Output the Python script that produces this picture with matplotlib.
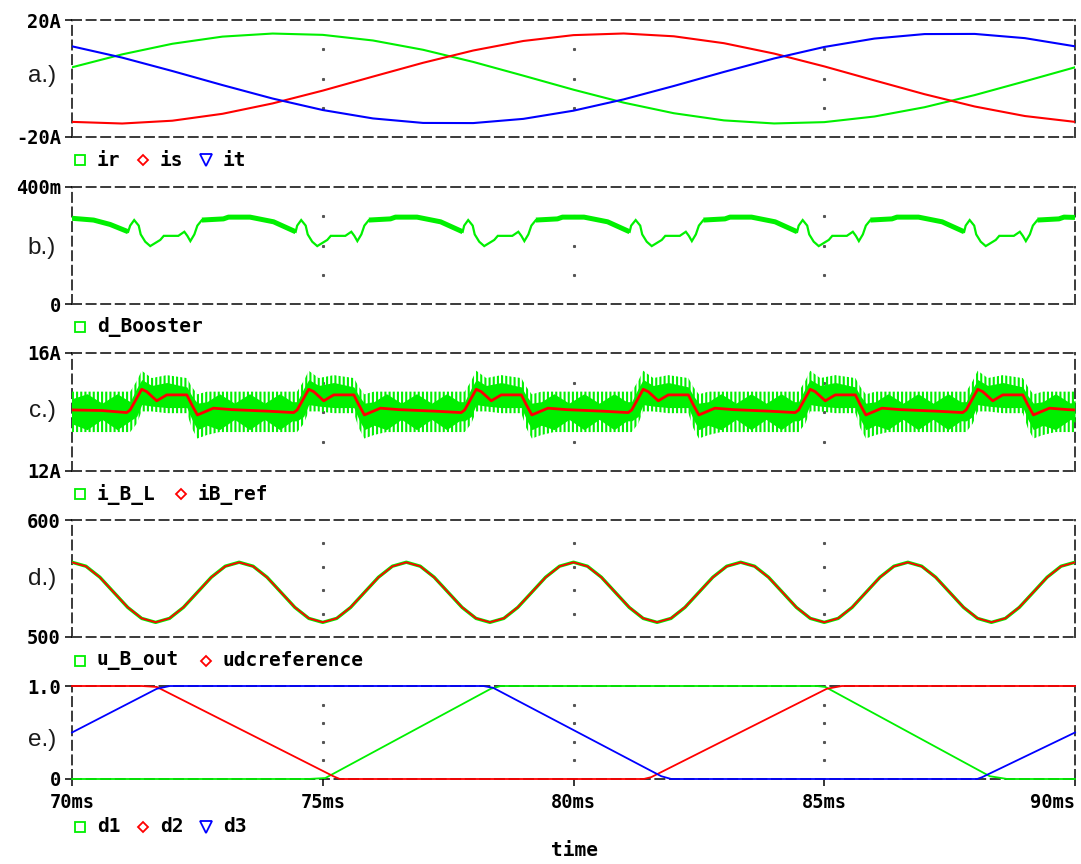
import numpy as np
import matplotlib
matplotlib.use("Agg")
import matplotlib.pyplot as plt
from matplotlib.lines import Line2D

# ---------------- a.) phase currents [A], 1 ms samples ----------------
t_a = [70, 71, 72, 73, 74, 75, 76, 77, 78, 79, 80, 81, 82, 83, 84, 85, 86, 87, 88, 89, 90]
i_r = [3.83, 8.25, 11.87, 14.32, 15.37, 14.92, 13.00, 9.82, 5.67, 0.97, -3.83,
       -8.25, -11.87, -14.32, -15.37, -14.92, -13.00, -9.82, -5.67, -0.97, 3.83]
i_s = [-14.83, -15.39, -14.43, -12.07, -8.52, -4.14, 0.65, 5.37, 9.57, 12.83, 14.83,
       15.39, 14.43, 12.07, 8.52, 4.14, -0.65, -5.37, -9.57, -12.83, -14.83]
i_t = [11.00, 7.14, 2.56, -2.25, -6.85, -10.78, -13.65, -15.19, -15.24, -13.80, -11.00,
       -7.14, -2.56, 2.25, 6.85, 10.78, 13.65, 15.19, 15.24, 13.80, 11.00]

# ---------------- b.) booster duty cycle ----------------
t_b = [70.00, 70.43, 70.76, 71.12, 71.16,
       71.24, 71.33, 71.37, 71.46, 71.56, 71.76, 71.83, 72.12, 72.24, 72.30, 72.36,
       72.44, 72.50, 72.59, 73.02, 73.12, 73.55, 74.02, 74.42, 74.46, 74.49,
       74.57, 74.66, 74.70, 74.79, 74.89, 75.09, 75.16, 75.45, 75.57, 75.63, 75.69,
       75.77, 75.83, 75.92, 76.35, 76.45, 76.88, 77.35, 77.75, 77.79, 77.82,
       77.90, 77.99, 78.03, 78.12, 78.22, 78.42, 78.49, 78.78, 78.90, 78.96, 79.02,
       79.10, 79.16, 79.25, 79.68, 79.78, 80.21, 80.68, 81.08, 81.12, 81.15,
       81.24, 81.33, 81.37, 81.46, 81.56, 81.76, 81.83, 82.12, 82.24, 82.30, 82.36,
       82.44, 82.50, 82.59, 83.02, 83.12, 83.55, 84.02, 84.42, 84.46, 84.49,
       84.57, 84.66, 84.70, 84.79, 84.89, 85.09, 85.16, 85.45, 85.57, 85.63, 85.69,
       85.77, 85.83, 85.92, 86.35, 86.45, 86.88, 87.35, 87.75, 87.79, 87.82,
       87.90, 87.99, 88.03, 88.12, 88.22, 88.42, 88.49, 88.78, 88.90, 88.96, 89.02,
       89.10, 89.16, 89.25, 89.68, 89.78, 90.00]
d_booster = [0.293, 0.287, 0.272, 0.247, 0.268,
             0.287, 0.268, 0.238, 0.213, 0.198, 0.219, 0.233, 0.233, 0.247, 0.233, 0.215,
             0.238, 0.268, 0.287, 0.291, 0.297, 0.297, 0.281, 0.250, 0.247, 0.268,
             0.287, 0.268, 0.238, 0.213, 0.198, 0.219, 0.233, 0.233, 0.247, 0.233, 0.215,
             0.238, 0.268, 0.287, 0.291, 0.297, 0.297, 0.281, 0.250, 0.247, 0.268,
             0.287, 0.268, 0.238, 0.213, 0.198, 0.219, 0.233, 0.233, 0.247, 0.233, 0.215,
             0.238, 0.268, 0.287, 0.291, 0.297, 0.297, 0.281, 0.250, 0.247, 0.268,
             0.287, 0.268, 0.238, 0.213, 0.198, 0.219, 0.233, 0.233, 0.247, 0.233, 0.215,
             0.238, 0.268, 0.287, 0.291, 0.297, 0.297, 0.281, 0.250, 0.247, 0.268,
             0.287, 0.268, 0.238, 0.213, 0.198, 0.219, 0.233, 0.233, 0.247, 0.233, 0.215,
             0.238, 0.268, 0.287, 0.291, 0.297, 0.297, 0.281, 0.250, 0.247, 0.268,
             0.287, 0.268, 0.238, 0.213, 0.198, 0.219, 0.233, 0.233, 0.247, 0.233, 0.215,
             0.238, 0.268, 0.287, 0.291, 0.297, 0.296]
# intervals where the switching ripple makes the duty trace visibly wider
d_booster_ripple_spans = [(70.00, 71.12), (72.59, 74.46), (75.92, 77.79), (79.25, 81.12),
                          (82.59, 84.46), (85.92, 87.79), (89.25, 90.00)]

# ---------------- c.) booster inductor current [A] ----------------
t_ibl = [70.00, 70.30, 70.60, 70.90,
         71.16, 71.29, 71.39, 71.59, 71.89, 72.29, 72.39, 72.50, 72.69, 72.94, 73.24, 73.54, 73.84, 74.14, 74.39,
         74.49, 74.62, 74.72, 74.92, 75.22, 75.62, 75.72, 75.83, 76.02, 76.27, 76.57, 76.87, 77.17, 77.47, 77.72,
         77.83, 77.96, 78.06, 78.26, 78.56, 78.96, 79.06, 79.17, 79.36, 79.61, 79.91, 80.21, 80.51, 80.81, 81.06,
         81.16, 81.29, 81.39, 81.59, 81.89, 82.29, 82.39, 82.50, 82.69, 82.94, 83.24, 83.54, 83.84, 84.14, 84.39,
         84.49, 84.62, 84.72, 84.92, 85.22, 85.62, 85.72, 85.83, 86.02, 86.27, 86.57, 86.87, 87.17, 87.47, 87.72,
         87.83, 87.96, 88.06, 88.26, 88.56, 88.96, 89.06, 89.17, 89.36, 89.61, 89.91, 90.00]
# ripple extremes (outer envelope)
ibl_max = [14.69, 14.69, 14.69, 14.69,
           14.69, 15.05, 15.40, 15.15, 15.25, 15.15, 14.85, 14.60, 14.69, 14.69, 14.69, 14.69, 14.69, 14.69, 14.69,
           14.69, 15.05, 15.40, 15.15, 15.25, 15.15, 14.85, 14.60, 14.69, 14.69, 14.69, 14.69, 14.69, 14.69, 14.69,
           14.69, 15.05, 15.40, 15.15, 15.25, 15.15, 14.85, 14.60, 14.69, 14.69, 14.69, 14.69, 14.69, 14.69, 14.69,
           14.69, 15.05, 15.40, 15.15, 15.25, 15.15, 14.85, 14.60, 14.69, 14.69, 14.69, 14.69, 14.69, 14.69, 14.69,
           14.69, 15.05, 15.40, 15.15, 15.25, 15.15, 14.85, 14.60, 14.69, 14.69, 14.69, 14.69, 14.69, 14.69, 14.69,
           14.69, 15.05, 15.40, 15.15, 15.25, 15.15, 14.85, 14.60, 14.69, 14.69, 14.69, 14.69]
ibl_min = [13.32, 13.32, 13.32, 13.32,
           13.32, 13.60, 14.02, 14.02, 13.96, 13.96, 13.45, 13.10, 13.22, 13.32, 13.32, 13.32, 13.32, 13.32, 13.32,
           13.32, 13.60, 14.02, 14.02, 13.96, 13.96, 13.45, 13.10, 13.22, 13.32, 13.32, 13.32, 13.32, 13.32, 13.32,
           13.32, 13.60, 14.02, 14.02, 13.96, 13.96, 13.45, 13.10, 13.22, 13.32, 13.32, 13.32, 13.32, 13.32, 13.32,
           13.32, 13.60, 14.02, 14.02, 13.96, 13.96, 13.45, 13.10, 13.22, 13.32, 13.32, 13.32, 13.32, 13.32, 13.32,
           13.32, 13.60, 14.02, 14.02, 13.96, 13.96, 13.45, 13.10, 13.22, 13.32, 13.32, 13.32, 13.32, 13.32, 13.32,
           13.32, 13.60, 14.02, 14.02, 13.96, 13.96, 13.45, 13.10, 13.22, 13.32, 13.32, 13.32]
# densely traced core of the ripple band
ibl_core_hi = [14.45, 14.62, 14.30, 14.62,
               14.35, 14.80, 15.10, 14.90, 15.00, 14.85, 14.55, 14.30, 14.35, 14.62, 14.30, 14.62, 14.30, 14.62, 14.35,
               14.35, 14.80, 15.10, 14.90, 15.00, 14.85, 14.55, 14.30, 14.35, 14.62, 14.30, 14.62, 14.30, 14.62, 14.35,
               14.35, 14.80, 15.10, 14.90, 15.00, 14.85, 14.55, 14.30, 14.35, 14.62, 14.30, 14.62, 14.30, 14.62, 14.35,
               14.35, 14.80, 15.10, 14.90, 15.00, 14.85, 14.55, 14.30, 14.35, 14.62, 14.30, 14.62, 14.30, 14.62, 14.35,
               14.35, 14.80, 15.10, 14.90, 15.00, 14.85, 14.55, 14.30, 14.35, 14.62, 14.30, 14.62, 14.30, 14.62, 14.35,
               14.35, 14.80, 15.10, 14.90, 15.00, 14.85, 14.55, 14.30, 14.35, 14.62, 14.30, 14.40]
ibl_core_lo = [13.60, 13.40, 13.75, 13.40,
               13.70, 13.85, 14.25, 14.20, 14.15, 14.15, 13.75, 13.40, 13.55, 13.40, 13.75, 13.40, 13.75, 13.40, 13.70,
               13.70, 13.85, 14.25, 14.20, 14.15, 14.15, 13.75, 13.40, 13.55, 13.40, 13.75, 13.40, 13.75, 13.40, 13.70,
               13.70, 13.85, 14.25, 14.20, 14.15, 14.15, 13.75, 13.40, 13.55, 13.40, 13.75, 13.40, 13.75, 13.40, 13.70,
               13.70, 13.85, 14.25, 14.20, 14.15, 14.15, 13.75, 13.40, 13.55, 13.40, 13.75, 13.40, 13.75, 13.40, 13.70,
               13.70, 13.85, 14.25, 14.20, 14.15, 14.15, 13.75, 13.40, 13.55, 13.40, 13.75, 13.40, 13.75, 13.40, 13.70,
               13.70, 13.85, 14.25, 14.20, 14.15, 14.15, 13.75, 13.40, 13.55, 13.40, 13.75, 13.65]
t_ref = [70.00, 70.60,
         71.09, 71.16, 71.39, 71.49, 71.69, 71.89, 72.29, 72.39, 72.50, 72.82, 73.19, 73.89,
         74.42, 74.49, 74.72, 74.82, 75.02, 75.22, 75.62, 75.72, 75.83, 76.15, 76.52, 77.22,
         77.76, 77.83, 78.06, 78.16, 78.36, 78.56, 78.96, 79.06, 79.17, 79.49, 79.86, 80.56,
         81.09, 81.16, 81.39, 81.49, 81.69, 81.89, 82.29, 82.39, 82.50, 82.82, 83.19, 83.89,
         84.42, 84.49, 84.72, 84.82, 85.02, 85.22, 85.62, 85.72, 85.83, 86.15, 86.52, 87.22,
         87.76, 87.83, 88.06, 88.16, 88.36, 88.56, 88.96, 89.06, 89.17, 89.49, 89.86, 90.00]
ib_ref = [14.07, 14.05,
          13.98, 14.07, 14.77, 14.69, 14.38, 14.58, 14.58, 14.24, 13.90, 14.13, 14.08, 14.03,
          13.98, 14.07, 14.77, 14.69, 14.38, 14.58, 14.58, 14.24, 13.90, 14.13, 14.08, 14.03,
          13.98, 14.07, 14.77, 14.69, 14.38, 14.58, 14.58, 14.24, 13.90, 14.13, 14.08, 14.03,
          13.98, 14.07, 14.77, 14.69, 14.38, 14.58, 14.58, 14.24, 13.90, 14.13, 14.08, 14.03,
          13.98, 14.07, 14.77, 14.69, 14.38, 14.58, 14.58, 14.24, 13.90, 14.13, 14.08, 14.03,
          13.98, 14.07, 14.77, 14.69, 14.38, 14.58, 14.58, 14.24, 13.90, 14.13, 14.08, 14.07]

# ---------------- d.) DC link voltage [V] ----------------
t_d = [70.000, 70.278, 70.556, 70.833, 71.111, 71.389, 71.667, 71.944, 72.222, 72.500, 72.778, 73.056,
       73.333, 73.611, 73.889, 74.167, 74.444, 74.722, 75.000, 75.278, 75.556, 75.833, 76.111, 76.389,
       76.667, 76.944, 77.222, 77.500, 77.778, 78.056, 78.333, 78.611, 78.889, 79.167, 79.444, 79.722,
       80.000, 80.278, 80.556, 80.833, 81.111, 81.389, 81.667, 81.944, 82.222, 82.500, 82.778, 83.056,
       83.333, 83.611, 83.889, 84.167, 84.444, 84.722, 85.000, 85.278, 85.556, 85.833, 86.111, 86.389,
       86.667, 86.944, 87.222, 87.500, 87.778, 88.056, 88.333, 88.611, 88.889, 89.167, 89.444, 89.722,
       90.000]
udc_reference = [563.8, 560.4, 551.0, 538.2, 525.4, 516.0, 512.6, 516.0, 525.4, 538.2, 551.0, 560.4,
                 563.8, 560.4, 551.0, 538.2, 525.4, 516.0, 512.6, 516.0, 525.4, 538.2, 551.0, 560.4,
                 563.8, 560.4, 551.0, 538.2, 525.4, 516.0, 512.6, 516.0, 525.4, 538.2, 551.0, 560.4,
                 563.8, 560.4, 551.0, 538.2, 525.4, 516.0, 512.6, 516.0, 525.4, 538.2, 551.0, 560.4,
                 563.8, 560.4, 551.0, 538.2, 525.4, 516.0, 512.6, 516.0, 525.4, 538.2, 551.0, 560.4,
                 563.8, 560.4, 551.0, 538.2, 525.4, 516.0, 512.6, 516.0, 525.4, 538.2, 551.0, 560.4,
                 563.8]
u_b_out = [563.9, 560.5, 551.1, 538.2, 525.3, 515.9, 512.5, 515.9, 525.3, 538.2, 551.1, 560.5,
           563.9, 560.5, 551.1, 538.2, 525.3, 515.9, 512.5, 515.9, 525.3, 538.2, 551.1, 560.5,
           563.9, 560.5, 551.1, 538.2, 525.3, 515.9, 512.5, 515.9, 525.3, 538.2, 551.1, 560.5,
           563.9, 560.5, 551.1, 538.2, 525.3, 515.9, 512.5, 515.9, 525.3, 538.2, 551.1, 560.5,
           563.9, 560.5, 551.1, 538.2, 525.3, 515.9, 512.5, 515.9, 525.3, 538.2, 551.1, 560.5,
           563.9, 560.5, 551.1, 538.2, 525.3, 515.9, 512.5, 515.9, 525.3, 538.2, 551.1, 560.5,
           563.9]

# ---------------- e.) inverter duty cycles ----------------
t_d1 = [70.00, 74.70, 75.05, 78.35, 78.55, 84.85, 85.02, 88.30, 88.65, 90.00]
d1 = [0.00, 0.00, 0.01, 0.97, 1.00, 1.00, 0.99, 0.03, 0.00, 0.00]
t_d2 = [70.00, 71.39, 71.69, 75.21, 75.34, 81.40, 81.55, 85.05, 85.35, 90.00]
d2 = [1.00, 1.00, 0.99, 0.03, 0.00, 0.00, 0.02, 0.97, 1.00, 1.00]
t_d3 = [70.00, 71.69, 71.95, 78.20, 78.40, 81.75, 81.95, 88.05, 88.15, 90.00]
d3 = [0.50, 0.97, 1.00, 1.00, 0.98, 0.03, 0.00, 0.00, 0.02, 0.50]

# ---------------- figure layout ----------------
GREEN, RED, BLUE = "#00f000", "#ff0000", "#0000ff"
MONO = "DejaVu Sans Mono"
W, H = 1081, 864
plt.rcParams["font.family"] = [MONO, "DejaVu Sans"]
plt.rcParams["font.weight"] = "bold"
plt.rcParams["lines.scale_dashes"] = False
plt.rcParams["hatch.linewidth"] = 1.5
plt.rcParams["hatch.color"] = GREEN

fig = plt.figure(figsize=(W / 100, H / 100), dpi=100)
fig.patch.set_facecolor("white")

LEFT, RIGHT = 72, 1075
panel_top = [20, 187, 353, 520, 686]
panel_bot = [137, 304, 471, 637, 779]
TICK_FS = 13.5
LEGEND_FS = 14


def fx(px):
    return px / W


def fy(py):
    return 1 - py / H


def make_axes(i, ylim, ylabels, grid_y, panel_label, label_y):
    """ylim = (bottom, top); ylabels in the same order."""
    ax = fig.add_axes([fx(LEFT), fy(panel_bot[i]), (RIGHT - LEFT) / W,
                       (panel_bot[i] - panel_top[i]) / H])
    ax.set_xlim(70, 90)
    ax.set_ylim(*ylim)
    ax.patch.set_alpha(0)
    for sp in ax.spines.values():
        sp.set_linestyle((0, (6.5, 4.0)))
        sp.set_linewidth(1.4)
        sp.set_color("#3a3a3a")
        sp.set_zorder(1.5)
    ax.set_yticks(list(ylim))
    ax.set_yticklabels(ylabels)
    ax.tick_params(axis="y", direction="out", length=5, width=1.1, color="black",
                   pad=3.0, labelsize=TICK_FS)
    ax.set_xticks([])
    # sparse dotted grid at 5 ms divisions
    gx, gy = np.meshgrid([75, 80, 85], grid_y)
    ax.plot(gx.ravel(), gy.ravel(), ls="none", marker="s", ms=1.2, color="#555555", zorder=1)
    fig.text(fx(56), fy(label_y), panel_label, ha="right", va="center",
             family="Liberation Sans", weight="normal", fontsize=17.5, color="#1a1a1a")
    return ax


def legend_row(y_px, items):
    x = 80
    for marker, ms, color, label in items:
        fig.add_artist(Line2D([fx(x)], [fy(y_px)], transform=fig.transFigure, marker=marker,
                              ms=ms, mfc="none", mec=color, mew=1.3, ls="none"))
        fig.text(fx(x + 17), fy(y_px), label, ha="left", va="center", fontsize=LEGEND_FS,
                 color="black")
        x = x + 17 + 12.5 * len(label) + 21


SQ = ("s", 7.2)
DI = ("D", 5.4)
TR = ("v", 9.0)

# a.)
ax_a = make_axes(0, (-20, 20), ["-20A", "20A"], [-10, 0, 10], "a.)", 76)
ax_a.plot(t_a, i_r, color=GREEN, lw=1.5, zorder=3)
ax_a.plot(t_a, i_s, color=RED, lw=1.5, zorder=3)
ax_a.plot(t_a, i_t, color=BLUE, lw=1.5, zorder=3)
legend_row(160, [(*SQ, GREEN, "ir"), (*DI, RED, "is"), (*TR, BLUE, "it")])

# b.)
ax_b = make_axes(1, (0, 0.4), ["0", "400m"], [0.1, 0.2, 0.3], "b.)", 248)
tb = np.asarray(t_b)
db = np.asarray(d_booster)
ax_b.plot(tb, db, color=GREEN, lw=1.6, zorder=3, solid_joinstyle="miter")
wide = np.zeros(tb.size, dtype=bool)
for a, b in d_booster_ripple_spans:
    wide |= (tb >= a - 1e-9) & (tb <= b + 1e-9)
ax_b.plot(tb, np.where(wide, db, np.nan), color=GREEN, lw=3.6, zorder=3,
          solid_capstyle="butt")
legend_row(327, [(*SQ, GREEN, "d_Booster")])

# c.)
ax_c = make_axes(2, (12, 16), ["12A", "16A"], [13, 14, 15], "c.)", 411)
ax_c.fill_between(t_ibl, ibl_min, ibl_max, facecolor="none", edgecolor=GREEN,
                  linewidth=0, hatch="||||", zorder=2)
ax_c.fill_between(t_ibl, ibl_core_lo, ibl_core_hi, color=GREEN, linewidth=0, zorder=2.2)
ax_c.plot(t_ref, ib_ref, color=RED, lw=2.0, zorder=3)
legend_row(494, [(*SQ, GREEN, "i_B_L"), (*DI, RED, "iB_ref")])

# d.)
ax_d = make_axes(3, (500, 600), ["500", "600"], [520, 540, 560, 580], "d.)", 579)
ax_d.plot(t_d, u_b_out, color=GREEN, lw=2.4, zorder=3)
ax_d.plot(t_d, udc_reference, color=RED, lw=1.3, zorder=3.1)
legend_row(661, [(*SQ, GREEN, "u_B_out"), (*DI, RED, "udcreference")])

# e.)
ax_e = make_axes(4, (0, 1.0), ["0", "1.0"], [0.2, 0.4, 0.6, 0.8], "e.)", 740)
ax_e.plot(t_d1, d1, color=GREEN, lw=1.3, zorder=3, clip_on=False)
ax_e.plot(t_d2, d2, color=RED, lw=1.3, zorder=3, clip_on=False)
ax_e.plot(t_d3, d3, color=BLUE, lw=1.3, zorder=3, clip_on=False)
ax_e.set_xticks([70, 75, 80, 85, 90])
ax_e.set_xticklabels(["70ms", "75ms", "80ms", "85ms", "90ms"])
ax_e.tick_params(axis="x", direction="out", length=5, width=1.1, color="black",
                 pad=5, labelsize=TICK_FS)
ax_e.get_xticklabels()[-1].set_horizontalalignment("right")
legend_row(827, [(*SQ, GREEN, "d1"), (*DI, RED, "d2"), (*TR, BLUE, "d3")])

fig.text(fx(574), fy(851), "time", ha="center", va="center", fontsize=LEGEND_FS, color="black")

fig.savefig("out.png", dpi=100, facecolor="white")
